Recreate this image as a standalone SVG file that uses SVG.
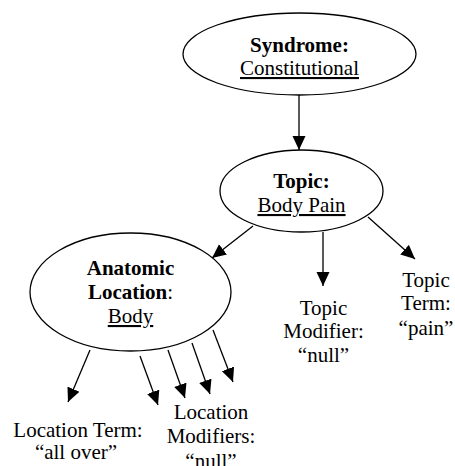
<svg xmlns="http://www.w3.org/2000/svg" width="455" height="466" viewBox="0 0 455 466">
<defs>
<marker id="ah" markerUnits="userSpaceOnUse" markerWidth="14" markerHeight="14" viewBox="0 0 14 14" refX="14" refY="7" orient="auto">
<path d="M0,0.5 L14,7 L0,13.5 Z" fill="#000"/>
</marker>
</defs>
<rect width="455" height="466" fill="#fff"/>
<g id="connectors" stroke="#000" stroke-width="1.3" fill="none">
<line x1="299" y1="95" x2="299" y2="150" marker-end="url(#ah)"/>
<line x1="253" y1="226" x2="212" y2="258" marker-end="url(#ah)"/>
<line x1="323" y1="232" x2="323" y2="286" marker-end="url(#ah)"/>
<line x1="368" y1="217" x2="415" y2="259" marker-end="url(#ah)"/>
<line x1="90" y1="350" x2="68" y2="402" marker-end="url(#ah)"/>
<line x1="140" y1="356" x2="158" y2="405" marker-end="url(#ah)"/>
<line x1="168" y1="350" x2="185" y2="398" marker-end="url(#ah)"/>
<line x1="192" y1="343" x2="210" y2="394" marker-end="url(#ah)"/>
<line x1="213" y1="330" x2="233" y2="382" marker-end="url(#ah)"/>
</g>
<g id="syndrome">
<ellipse cx="299.5" cy="54" rx="116.5" ry="41" fill="#fff" stroke="#000" stroke-width="1.3"/>
<text x="299.5" y="52" text-anchor="middle" style="font-family:'Liberation Serif', serif;font-size:21px;font-weight:bold">Syndrome:</text>
<text x="299.5" y="75" text-anchor="middle" style="font-family:'Liberation Serif', serif;font-size:21px;text-decoration:underline">Constitutional</text>
</g>
<g id="topic">
<ellipse cx="301.5" cy="191" rx="81.5" ry="41" fill="#fff" stroke="#000" stroke-width="1.3"/>
<text x="301.5" y="188" text-anchor="middle" style="font-family:'Liberation Serif', serif;font-size:21px;font-weight:bold">Topic:</text>
<text x="301.5" y="212" text-anchor="middle" style="font-family:'Liberation Serif', serif;font-size:21px;text-decoration:underline">Body Pain</text>
</g>
<g id="anatomic">
<ellipse cx="130.5" cy="292" rx="100.5" ry="59" fill="#fff" stroke="#000" stroke-width="1.3"/>
<text x="130.5" y="275" text-anchor="middle" style="font-family:'Liberation Serif', serif;font-size:21px;font-weight:bold">Anatomic</text>
<text x="130.5" y="299" text-anchor="middle" style="font-family:'Liberation Serif', serif;font-size:21px"><tspan style="font-weight:bold">Location</tspan>:</text>
<text x="130.5" y="323" text-anchor="middle" style="font-family:'Liberation Serif', serif;font-size:21px;text-decoration:underline">Body</text>
</g>
<g id="topic-modifier">
<text x="323.5" y="315" text-anchor="middle" style="font-family:'Liberation Serif', serif;font-size:21px">Topic</text>
<text x="323.5" y="338" text-anchor="middle" style="font-family:'Liberation Serif', serif;font-size:21px">Modifier:</text>
<text x="323.5" y="362" text-anchor="middle" style="font-family:'Liberation Serif', serif;font-size:21px">“null”</text>
</g>
<g id="topic-term">
<text x="426" y="287" text-anchor="middle" style="font-family:'Liberation Serif', serif;font-size:21px">Topic</text>
<text x="426" y="310" text-anchor="middle" style="font-family:'Liberation Serif', serif;font-size:21px">Term:</text>
<text x="426" y="335" text-anchor="middle" style="font-family:'Liberation Serif', serif;font-size:21px">“pain”</text>
</g>
<g id="location-term">
<text x="78" y="437" text-anchor="middle" style="font-family:'Liberation Serif', serif;font-size:21px">Location Term:</text>
<text x="76" y="459" text-anchor="middle" style="font-family:'Liberation Serif', serif;font-size:21px">“all over”</text>
</g>
<g id="location-modifiers">
<text x="211" y="419" text-anchor="middle" style="font-family:'Liberation Serif', serif;font-size:21px">Location</text>
<text x="211" y="443" text-anchor="middle" style="font-family:'Liberation Serif', serif;font-size:21px">Modifiers:</text>
<text x="211" y="468" text-anchor="middle" style="font-family:'Liberation Serif', serif;font-size:21px">“null”</text>
</g>
</svg>
